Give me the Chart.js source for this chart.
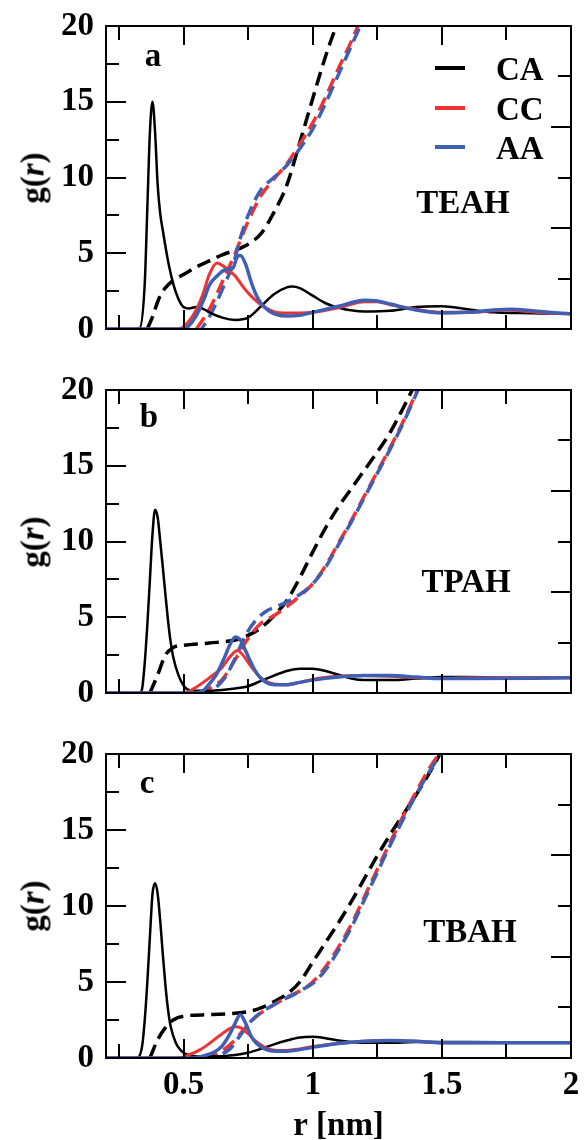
<!DOCTYPE html>
<html>
<head>
<meta charset="utf-8">
<script src="https://cdn.jsdelivr.net/npm/chart.js@4.4.1/dist/chart.umd.min.js"></script>
<style>
  body { margin:0; width:584px; height:1140px; overflow:hidden; background:#fff; position:relative; }
  canvas { position:absolute; left:0; }
  .lbl { position:absolute; font:bold 33px 'Liberation Serif', serif; line-height:1; transform:translate(-50%,-50%); white-space:nowrap; color:#000; }
  .ylab { transform:translate(-50%,-50%) rotate(-90deg); }
  .key { position:absolute; height:4px; width:30px; }
  .keytext { position:absolute; font:bold 33px 'Liberation Serif', serif; line-height:1; transform:translateY(-50%); }
</style>
</head>
<body>
<canvas id="panelA" width="584" height="364" style="top:0"></canvas>
<canvas id="panelB" width="584" height="364" style="top:364px"></canvas>
<canvas id="panelC" width="584" height="430" style="top:728px"></canvas>

<script>
// g(r) and running coordination numbers
// each series is [r (nm), value]

// ---- TEAH ----
const teahCA = [[0.2,0],[0.3,0],[0.33,0.05],[0.35,3],[0.36,8],[0.37,13],[0.38,15],[0.39,13],[0.40,9.5],[0.41,7.6],[0.42,6.5],[0.44,4.5],[0.46,3],[0.48,2],[0.5,1.45],[0.52,1.35],[0.55,1.45],[0.58,1.3],[0.6,1.1],[0.65,0.75],[0.7,0.6],[0.75,0.75],[0.8,1.5],[0.85,2.3],[0.9,2.75],[0.92,2.8],[0.95,2.7],[1.0,2.2],[1.05,1.7],[1.1,1.4],[1.2,1.15],[1.3,1.2],[1.4,1.45],[1.5,1.5],[1.6,1.3],[1.7,1.1],[1.8,1.05],[2.0,1.0]];
const teahCC = [[0.2,0],[0.48,0],[0.5,0.15],[0.525,0.6],[0.55,1.3],[0.575,2.3],[0.6,3.6],[0.63,4.35],[0.65,4.2],[0.68,3.8],[0.7,3.5],[0.73,2.8],[0.76,2.2],[0.8,1.6],[0.85,1.15],[0.9,1.05],[0.95,1.05],[1.0,1.1],[1.1,1.4],[1.2,1.8],[1.25,1.8],[1.3,1.6],[1.4,1.3],[1.5,1.1],[1.6,1.1],[1.7,1.2],[1.75,1.25],[1.8,1.2],[1.9,1.05],[2.0,1.0]];
const teahAA = [[0.2,0],[0.5,0],[0.52,0.2],[0.55,0.9],[0.58,2.0],[0.6,2.9],[0.63,3.5],[0.66,3.9],[0.69,4.0],[0.71,4.8],[0.72,4.85],[0.74,4.3],[0.76,3.2],[0.78,2.3],[0.8,1.7],[0.83,1.2],[0.86,0.95],[0.9,0.85],[0.95,0.9],[1.0,1.1],[1.1,1.5],[1.2,1.9],[1.25,1.85],[1.3,1.65],[1.4,1.25],[1.5,1.05],[1.6,1.1],[1.7,1.25],[1.77,1.3],[1.85,1.2],[1.95,1.05],[2.0,1.0]];
const teahCAn = [[0.36,0],[0.38,0.8],[0.4,1.8],[0.42,2.5],[0.44,2.9],[0.46,3.2],[0.5,3.6],[0.55,4.1],[0.6,4.5],[0.65,4.9],[0.7,5.2],[0.75,5.6],[0.8,6.3],[0.85,7.7],[0.9,9.5],[0.95,12.3],[1.0,15.2],[1.05,18.0],[1.1,20.4],[1.15,22.5]];
const teahCCn = [[0.55,0],[0.57,0.5],[0.6,1.3],[0.65,3.1],[0.7,5.0],[0.75,7.1],[0.8,8.8],[0.85,9.9],[0.9,10.9],[0.95,12.2],[1.0,13.6],[1.05,15.3],[1.1,17.2],[1.15,19.0],[1.18,20.2],[1.2,21]];
const teahAAn = [[0.57,0],[0.6,0.8],[0.65,2.6],[0.7,4.7],[0.72,6.0],[0.75,7.5],[0.8,9.2],[0.85,10.0],[0.9,10.8],[0.95,11.9],[1.0,13.2],[1.05,14.9],[1.1,16.8],[1.15,18.7],[1.2,20.6]];

// ---- TPAH ----
const tpahCA = [[0.2,0],[0.33,0],[0.34,0.3],[0.35,2],[0.36,4.5],[0.37,7.5],[0.38,10.5],[0.39,12.1],[0.40,11.6],[0.41,10.0],[0.42,8.3],[0.43,6.5],[0.44,4.8],[0.45,3.4],[0.46,2.4],[0.48,1.2],[0.5,0.5],[0.52,0.2],[0.55,0.15],[0.6,0.15],[0.65,0.2],[0.7,0.3],[0.75,0.45],[0.8,0.8],[0.85,1.15],[0.9,1.45],[0.95,1.6],[1.0,1.6],[1.05,1.45],[1.1,1.2],[1.15,0.95],[1.2,0.85],[1.3,0.85],[1.4,0.95],[1.5,1.05],[1.6,1.05],[1.8,1.0],[2.0,1.0]];
const tpahCC = [[0.2,0],[0.5,0],[0.55,0.4],[0.6,1.0],[0.65,1.7],[0.68,2.4],[0.71,2.8],[0.73,2.5],[0.76,1.8],[0.8,1.0],[0.85,0.6],[0.9,0.55],[0.95,0.7],[1.0,0.9],[1.1,1.1],[1.2,1.15],[1.3,1.1],[1.4,1.0],[1.5,0.95],[1.6,1.0],[2.0,1.0]];
const tpahAA = [[0.2,0],[0.55,0],[0.58,0.2],[0.6,0.6],[0.63,1.3],[0.66,2.4],[0.68,3.2],[0.7,3.7],[0.72,3.5],[0.74,2.8],[0.77,1.7],[0.8,0.95],[0.85,0.55],[0.9,0.55],[0.95,0.7],[1.0,0.85],[1.1,1.05],[1.2,1.15],[1.3,1.15],[1.4,1.05],[1.5,0.95],[1.6,0.95],[2.0,1.0]];
const tpahCAn = [[0.37,0],[0.4,1.2],[0.43,2.5],[0.46,3.0],[0.5,3.15],[0.6,3.3],[0.7,3.5],[0.75,3.8],[0.8,4.3],[0.85,5.1],[0.9,6.1],[0.95,7.6],[1.0,9.3],[1.05,10.9],[1.1,12.3],[1.15,13.5],[1.2,14.7],[1.25,15.9],[1.3,17.2],[1.35,18.8],[1.4,20.5]];
const tpahCCn = [[0.56,0],[0.6,0.3],[0.65,0.9],[0.7,2.2],[0.75,3.6],[0.8,4.6],[0.85,5.1],[0.9,5.7],[0.95,6.4],[1.0,7.2],[1.05,8.4],[1.1,9.9],[1.15,11.4],[1.2,13.0],[1.25,14.6],[1.3,16.2],[1.35,17.9],[1.4,19.8],[1.42,20.6]];
const tpahAAn = [[0.58,0],[0.62,0.3],[0.66,1.0],[0.7,2.3],[0.74,3.8],[0.78,4.8],[0.82,5.4],[0.86,5.7],[0.9,6.0],[0.95,6.5],[1.0,7.2],[1.05,8.3],[1.1,9.8],[1.15,11.3],[1.2,12.9],[1.25,14.5],[1.3,16.1],[1.35,17.8],[1.4,19.7],[1.42,20.5]];

// ---- TBAH ----
const tbahCA = [[0.2,0],[0.32,0],[0.34,0.8],[0.35,2.5],[0.36,5.0],[0.37,8],[0.38,10.8],[0.39,11.5],[0.40,10.8],[0.41,9.0],[0.42,6.8],[0.43,4.8],[0.44,3.2],[0.45,2.1],[0.47,1.0],[0.49,0.5],[0.51,0.25],[0.55,0.1],[0.6,0.1],[0.7,0.2],[0.75,0.35],[0.8,0.6],[0.85,0.9],[0.9,1.15],[0.95,1.35],[1.0,1.4],[1.05,1.3],[1.1,1.15],[1.2,1.0],[1.3,1.0],[1.4,1.05],[1.5,1.05],[1.6,1.05],[2.0,1.0]];
const tbahCC = [[0.2,0],[0.48,0],[0.52,0.2],[0.56,0.5],[0.6,0.95],[0.65,1.6],[0.7,2.05],[0.72,2.0],[0.75,1.6],[0.78,1.1],[0.82,0.65],[0.86,0.5],[0.9,0.5],[0.95,0.6],[1.0,0.75],[1.1,0.95],[1.2,1.1],[1.3,1.15],[1.4,1.1],[1.5,1.0],[1.6,1.0],[2.0,1.0]];
const tbahAA = [[0.2,0],[0.54,0],[0.58,0.15],[0.62,0.4],[0.65,0.8],[0.68,1.6],[0.7,2.3],[0.72,2.85],[0.74,2.3],[0.76,1.5],[0.78,1.0],[0.82,0.55],[0.86,0.45],[0.9,0.45],[0.95,0.55],[1.0,0.7],[1.1,0.95],[1.2,1.1],[1.3,1.15],[1.4,1.1],[1.5,1.0],[1.6,1.0],[2.0,1.0]];
const tbahCAn = [[0.37,0],[0.4,1.2],[0.43,2.0],[0.46,2.5],[0.5,2.75],[0.6,2.85],[0.7,2.95],[0.75,3.05],[0.8,3.3],[0.85,3.7],[0.9,4.2],[0.95,5.0],[1.0,6.3],[1.05,7.6],[1.1,8.9],[1.15,10.3],[1.2,11.8],[1.25,13.3],[1.3,14.7],[1.35,16.0],[1.4,17.3],[1.45,18.7],[1.5,20.2]];
const tbahCCn = [[0.58,0],[0.62,0.2],[0.66,0.6],[0.7,1.2],[0.74,2.0],[0.78,2.7],[0.82,3.2],[0.86,3.6],[0.9,4.0],[0.95,4.4],[1.0,5.0],[1.05,6.0],[1.1,7.3],[1.15,8.8],[1.2,10.6],[1.25,12.4],[1.3,14.2],[1.35,15.9],[1.4,17.5],[1.45,19.0],[1.5,20.3]];
const tbahAAn = [[0.6,0],[0.64,0.2],[0.68,0.6],[0.72,1.5],[0.76,2.4],[0.8,3.0],[0.84,3.4],[0.88,3.8],[0.92,4.1],[0.96,4.5],[1.0,4.9],[1.05,5.8],[1.1,7.1],[1.15,8.6],[1.2,10.4],[1.25,12.2],[1.3,14.0],[1.35,15.7],[1.4,17.3],[1.45,18.8],[1.5,20.1]];

const seriesNames = ['CA', 'CC', 'AA'];
const seriesColors = ['#000000', '#ee3333', '#3f5fb5'];
const panelNames = ['TEAH', 'TPAH', 'TBAH'];
const panelLetters = ['a', 'b', 'c'];

// axis ticks
const xTickLabels = [0.5, 1, 1.5, 2];
const yTickLabels = [0, 5, 10, 15, 20];
const xTickMarks = [0.25, 0.5, 0.75, 1, 1.25, 1.5, 1.75];
const yTickMarks = [2.5, 5, 7.5, 10, 12.5, 15, 17.5];
const rightTickMarks = [10, 20, 30, 40, 50];   // right-hand scale runs 0..60
const rightMax = 60;

const serif = "'Liberation Serif', 'Times New Roman', serif";

// frame + inward ticks on all four sides (filled rects, 2px)
const frameTicks = {
    id: 'frameTicks',
    afterDraw(chart) {
        const ctx = chart.ctx;
        const a = chart.chartArea;
        const xs = chart.scales.x;
        const ys = chart.scales.y;
        const L = Math.round(a.left), R = Math.round(a.right);
        const T = Math.round(a.top), B = Math.round(a.bottom);
        ctx.save();
        ctx.fillStyle = '#000000';
        xTickMarks.forEach(v => {
            const px = Math.round(xs.getPixelForValue(v));
            const len = (v % 0.5 === 0) ? 19 : 14;
            ctx.fillRect(px - 1, B - len, 2, len);
            ctx.fillRect(px - 1, T, 2, len);
        });
        yTickMarks.forEach(v => {
            const py = Math.round(ys.getPixelForValue(v));
            const len = (v % 5 === 0) ? 20 : 13;
            ctx.fillRect(L, py - 1, len, 2);
        });
        rightTickMarks.forEach(v => {
            const py = Math.round(ys.getPixelForValue(v * ys.max / rightMax));
            const len = (v % 20 === 0) ? 20 : 13;
            ctx.fillRect(R - len, py - 1, len, 2);
        });
        ctx.fillRect(L - 1, T - 1, R - L + 2, 2);
        ctx.fillRect(L - 1, B - 1, R - L + 2, 2);
        ctx.fillRect(L - 1, T - 1, 2, B - T + 2);
        ctx.fillRect(R - 1, T - 1, 2, B - T + 2);
        ctx.restore();
    }
};

function toPoints(arr) {
    return arr.map(p => ({ x: p[0], y: p[1] }));
}

function makePanel(canvasId, solid, dashed, showX) {
    const datasets = [];
    // first dataset is drawn on top
    for (let i = 2; i >= 0; i--) {
        datasets.push({
            label: seriesNames[i],
            data: toPoints(solid[i]),
            borderColor: seriesColors[i],
            borderWidth: i === 0 ? 2.5 : (i === 2 ? 3.5 : 3),
            pointRadius: 0,
            cubicInterpolationMode: 'monotone'
        });
    }
    for (let i = 2; i >= 0; i--) {
        datasets.push({
            label: seriesNames[i] + ' n(r)',
            data: toPoints(dashed[i]),
            borderColor: seriesColors[i],
            borderWidth: 3.5,
            borderDash: [14, 7],
            borderDashOffset: i === 2 ? 7 : 0,
            pointRadius: 0,
            cubicInterpolationMode: 'monotone'
        });
    }

    return new Chart(document.getElementById(canvasId), {
        type: 'line',
        data: { datasets },
        options: {
            responsive: false,
            animation: false,
            layout: { padding: { top: 26, right: 13, left: 0, bottom: 0 } },
            plugins: { legend: { display: false }, tooltip: { enabled: false } },
            scales: {
                x: {
                    type: 'linear',
                    min: 0.2,
                    max: 2,
                    grid: { display: false, drawTicks: false },
                    border: { display: false },
                    afterBuildTicks: s => { s.ticks = xTickLabels.map(v => ({ value: v })); },
                    afterFit: s => { s.height = showX ? 100 : 35; },
                    ticks: {
                        display: showX,
                        autoSkip: false,
                        maxRotation: 0,
                        padding: 0,
                        color: '#000',
                        callback: v => String(v),
                        font: { family: serif, size: 33, weight: 'bold', lineHeight: 1.67 }
                    },
                    title: {
                        display: showX,
                        text: 'r [nm]',
                        color: '#000',
                        padding: { top: 0, bottom: 12 },
                        font: { family: serif, size: 33, weight: 'bold' }
                    }
                },
                y: {
                    type: 'linear',
                    min: 0,
                    max: 20,
                    grid: { display: false, drawTicks: false },
                    border: { display: false },
                    afterBuildTicks: s => { s.ticks = yTickLabels.map(v => ({ value: v })); },
                    afterFit: s => { s.width = 106; },
                    ticks: {
                        autoSkip: false,
                        padding: 12,
                        color: '#000',
                        callback: v => String(v),
                        font: { family: serif, size: 33, weight: 'bold', lineHeight: 0.8 }
                    }
                }
            }
        },
        plugins: [frameTicks]
    });
}

makePanel('panelA', [teahCA, teahCC, teahAA], [teahCAn, teahCCn, teahAAn], false);
makePanel('panelB', [tpahCA, tpahCC, tpahAA], [tpahCAn, tpahCCn, tpahAAn], false);
makePanel('panelC', [tbahCA, tbahCC, tbahAA], [tbahCAn, tbahCCn, tbahAAn], true);

// text labels on top of the canvases
const panelTops = [26, 390, 754];
const panelHeight = 303;
function addLabel(html, x, y, cls) {
    const d = document.createElement('div');
    d.className = cls || 'lbl';
    d.innerHTML = html;
    d.style.left = x + 'px';
    d.style.top = y + 'px';
    document.body.appendChild(d);
}
const letterPos = [[153, 55], [149, 416], [147, 782]];
const namePos = [[463, 202], [466, 581], [470, 931]];
panelTops.forEach((t, i) => {
    addLabel(panelLetters[i], letterPos[i][0], letterPos[i][1]);
    addLabel(panelNames[i], namePos[i][0], namePos[i][1]);
    addLabel('g(<i>r</i>)', 33, t + panelHeight / 2, 'lbl ylab');
});

// legend (panel a only)
const keyRows = [68, 108, 147];
seriesNames.forEach((name, i) => {
    const k = document.createElement('div');
    k.className = 'key';
    k.style.left = '435px';
    k.style.top = (keyRows[i] - 2) + 'px';
    k.style.background = seriesColors[i];
    document.body.appendChild(k);
    addLabel(name, 496, keyRows[i] + 1, 'keytext');
});
</script>
</body>
</html>
